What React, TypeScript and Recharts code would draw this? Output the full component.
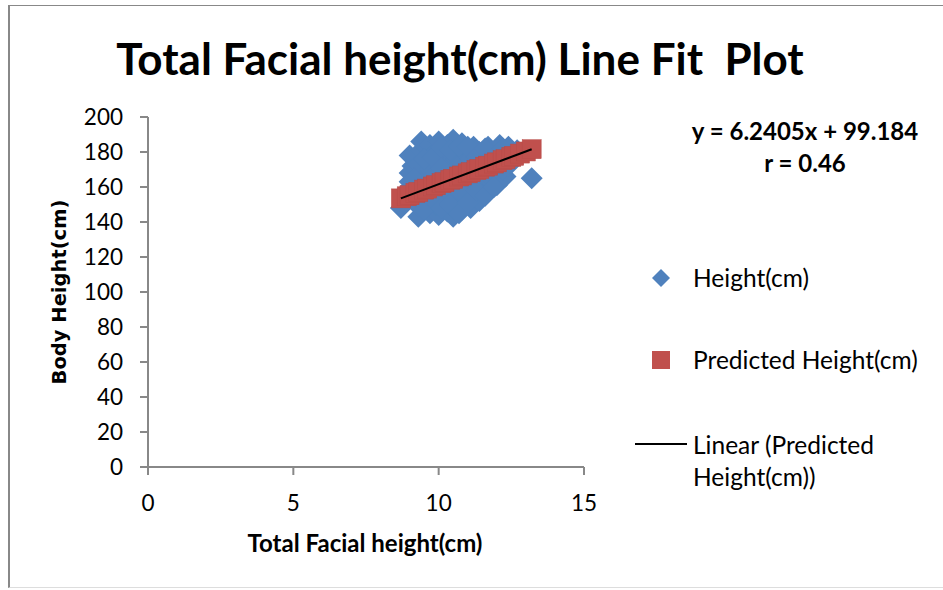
import { ScatterChart, Scatter, XAxis, YAxis } from 'recharts';

// observed points (total facial height vs body height)
const facialHeight = [
  8.7, 8.8, 8.9, 9.0, 9.0, 9.1, 9.0,
  9.3, 9.3, 9.4, 9.3, 9.4, 9.3, 9.4, 9.4,
  9.7, 9.6, 9.7, 9.6, 9.7, 9.7,
  10.0, 9.9, 10.0, 9.9, 10.0, 10.0, 9.9, 10.0,
  10.3, 10.2, 10.3, 10.2, 10.3, 10.2, 10.3,
  10.5, 10.6, 10.5, 10.6, 10.5, 10.6, 10.5,
  10.8, 10.9, 10.8, 10.9, 10.8, 10.9, 10.8,
  11.1, 11.2, 11.1, 11.2, 11.1, 11.2,
  11.4, 11.5, 11.4, 11.5, 11.4,
  11.7, 11.8, 11.7, 11.8, 11.7,
  12.0, 12.1, 12.0, 12.1, 12.1,
  12.3, 12.4, 12.3, 12.4,
  12.6, 12.7,
  13.2,
  9.15, 9.15, 9.5, 9.5, 9.8, 9.8, 9.8, 10.1, 10.1, 10.1,
  10.4, 10.4, 10.4, 10.7, 10.7, 10.7, 11.0, 11.0, 11.0,
  11.3, 11.3, 11.6, 11.6, 11.6, 11.9, 11.9, 12.2, 12.2, 12.5,
];
const bodyHeight = [
  148, 153, 158, 163, 168, 172, 178,
  143, 149, 155, 161, 167, 173, 181, 186,
  145, 151, 158, 164, 170, 184,
  144, 150, 156, 162, 168, 174, 180, 186,
  146, 152, 159, 166, 172, 178, 184,
  143, 149, 155, 162, 169, 176, 187,
  147, 153, 160, 167, 174, 180, 185,
  148, 155, 162, 169, 176, 183,
  152, 159, 166, 173, 180,
  157, 163, 170, 177, 183,
  161, 167, 174, 180, 184,
  166, 172, 178, 183,
  176, 181,
  165,
  152, 165, 147, 176, 153, 166, 177, 148, 171, 183,
  150, 163, 181, 145, 158, 183, 151, 165, 183,
  158, 177, 155, 168, 182, 160, 173, 170, 182, 178,
];

// predicted heights
const predFacial = [
  8.7, 8.9, 9.0, 9.2, 9.3, 9.5, 9.6, 9.8, 9.9, 10.1, 10.2, 10.4, 10.5, 10.7, 10.8,
  11.0, 11.1, 11.3, 11.4, 11.6, 11.7, 11.9, 12.0, 12.2, 12.3, 12.5, 12.6, 12.8, 13.0, 13.2,
];
const predHeight = [
  153.5, 154.7, 155.3, 156.6, 157.2, 158.5, 159.1, 160.3, 161.0, 162.2, 162.8, 164.1, 164.7, 166.0, 166.6,
  167.8, 168.5, 169.7, 170.3, 171.6, 172.2, 173.4, 174.1, 175.3, 175.9, 177.2, 177.8, 179.1, 180.3, 181.6,
];

const trendFacial = [8.7, 13.2];
const trendHeight = [153.5, 181.6];

const xTicks = [0, 5, 10, 15];
const yTicks = [0, 20, 40, 60, 80, 100, 120, 140, 160, 180, 200];

const observed = facialHeight.map((x, i) => ({ x, y: bodyHeight[i] }));
const predicted = predFacial.map((x, i) => ({ x, y: predHeight[i] }));
const trend = trendFacial.map((x, i) => ({ x, y: trendHeight[i] }));

const BLUE = '#4F81BD';
const RED = '#C0504D';
const AXIS = '#888888';
const FONT = 'Lato, "Open Sans", sans-serif';

const Diamond = (p: any) => (
  <polygon
    points={`${p.cx},${p.cy - 11} ${p.cx + 11},${p.cy} ${p.cx},${p.cy + 11} ${p.cx - 11},${p.cy}`}
    fill={BLUE}
  />
);

const Square = (p: any) => (
  <rect x={p.cx - 9.5} y={p.cy - 9.5} width={19} height={19} fill={RED} stroke="#B84C49" strokeWidth={0.5} />
);

const NoDot = () => <g />;

const abs = (left: number, top: number, extra: any = {}) => ({
  position: 'absolute' as const,
  left,
  top,
  transform: 'translate(-50%, -50%)',
  whiteSpace: 'nowrap' as const,
  lineHeight: 1,
  ...extra,
});

export default function App() {
  const tickStyle = { fontFamily: FONT, fontSize: 22.5, fill: '#000' };
  return (
    <div style={{ position: 'absolute', left: 0, top: 0, width: 943, height: 590, background: '#fff', fontFamily: FONT, color: '#000' }}>
      <div
        style={{
          position: 'absolute',
          left: 8,
          top: 5,
          width: 935,
          height: 583,
          borderLeft: '2px solid #888',
          borderTop: '1px solid #888',
          borderBottom: '1px solid #ddd',
          boxSizing: 'border-box',
        }}
      />
      <div style={{ position: 'absolute', left: 0, top: 0 }}>
        <ScatterChart width={943} height={590} margin={{ top: 117, right: 359, bottom: 83, left: 88 }}>
          <XAxis
            type="number"
            dataKey="x"
            domain={[0, 15]}
            ticks={xTicks}
            height={40}
            stroke={AXIS}
            strokeWidth={2}
            tickSize={8}
            tickMargin={20}
            tick={tickStyle}
            tickLine={{ stroke: AXIS, strokeWidth: 2 }}
          />
          <YAxis
            type="number"
            dataKey="y"
            domain={[0, 200]}
            ticks={yTicks}
            width={60}
            stroke={AXIS}
            strokeWidth={2}
            tickSize={8}
            tickMargin={17}
            tick={tickStyle}
            tickLine={{ stroke: AXIS, strokeWidth: 2 }}
          />
          <Scatter data={observed} shape={Diamond} isAnimationActive={false} />
          <Scatter data={predicted} shape={Square} isAnimationActive={false} />
          <Scatter
            data={trend}
            shape={NoDot}
            line={{ stroke: '#000', strokeWidth: 2 }}
            isAnimationActive={false}
          />
        </ScatterChart>
      </div>

      <div style={abs(460, 58, { fontSize: 44, fontWeight: 700 })}>Total Facial height(cm) Line Fit&nbsp;&nbsp;Plot</div>
      <div style={abs(365, 543, { fontSize: 24, fontWeight: 700 })}>Total Facial height(cm)</div>
      <div
        style={abs(60, 292, {
          fontSize: 19.5,
          fontWeight: 700,
          fontFamily: '"DejaVu Sans", sans-serif',
          transform: 'translate(-50%, -50%) rotate(-90deg)',
        })}
      >
        Body Height(cm)
      </div>

      <div style={abs(805, 131, { fontSize: 24, fontWeight: 700 })}>y = 6.2405x + 99.184</div>
      <div style={abs(805, 163, { fontSize: 24, fontWeight: 700 })}>r = 0.46</div>

      <svg style={{ position: 'absolute', left: 0, top: 0 }} width={943} height={590} pointerEvents="none">
        <polygon points="661,269 670,278 661,287 652,278" fill={BLUE} />
        <rect x={652} y={351} width={18} height={18} fill={RED} />
        <line x1={635} y1={444} x2={687} y2={444} stroke="#000" strokeWidth={2} />
      </svg>
      <div style={{ position: 'absolute', left: 693, top: 278, transform: 'translateY(-50%)', fontSize: 24.5, lineHeight: 1, whiteSpace: 'nowrap' }}>
        Height(cm)
      </div>
      <div style={{ position: 'absolute', left: 693, top: 360, transform: 'translateY(-50%)', fontSize: 24.5, lineHeight: 1, whiteSpace: 'nowrap' }}>
        Predicted Height(cm)
      </div>
      <div style={{ position: 'absolute', left: 693, top: 429, fontSize: 24.5, lineHeight: '32px', whiteSpace: 'nowrap' }}>
        Linear (Predicted
        <br />
        Height(cm))
      </div>
    </div>
  );
}
